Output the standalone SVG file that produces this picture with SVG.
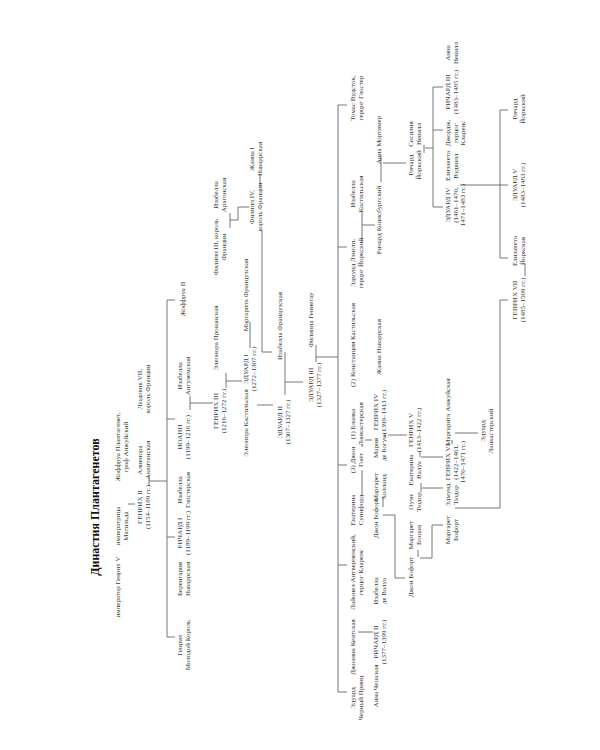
<svg xmlns="http://www.w3.org/2000/svg" width="600" height="750" viewBox="0 0 600 750">
<style>
.t{font-family:"Liberation Serif","Times New Roman",serif;font-size:7px;fill:#3a3a3a;text-anchor:middle}
.h{font-family:"Liberation Serif","Times New Roman",serif;font-size:12px;font-weight:bold;fill:#111;text-anchor:middle}
.c{stroke:#666;stroke-width:0.9;fill:none}
</style>
<rect width="600" height="750" fill="#fff"/>
<text class="h" transform="rotate(-90 99 507)" x="99" y="507">Династия Плантагенетов</text>
<g id="connectors" class="c">
<path d="M128,504 H135"/>
<path d="M149,476 V486 M149,481 H167"/>
<path d="M167,300 V637 M167,300 H175 M167,419 H175 M167,537 H175 M167,637 H175"/>
<path d="M190,396 V410 M190,403 H213"/>
<path d="M226,373 V388 M226,381 H242"/>
<path d="M230,213 V228 M230,220 H238 V207 H249"/>
<path d="M260,174 V187 M262,230 V352 H272"/>
<path d="M250,322 V348"/>
<path d="M257,405 H273"/>
<path d="M285,352 V395 M285,382 H303"/>
<path d="M316,345 V362 M316,357 H338"/>
<path d="M338,105 V692 M338,105 H347 M338,247 H347 M338,465 H347 M338,565 H347 M338,692 H347"/>
<path d="M362,212 V242 M362,225 H375"/>
<path d="M381,155 V182 M383,163 H406"/>
<path d="M424,145 V153 M425,148 H433 M433,87 V207 M433,87 H443 M433,130 H443 M433,207 H443"/>
<path d="M460,185 H500 M500,110 V258 M500,110 H508 M500,185 H508 M500,258 H508"/>
<path d="M455,508 H500 V300 H508"/>
<path d="M525,264 V276"/>
<path d="M358,632 H373"/>
<path d="M362,444 V447 M365,440 H372"/>
<path d="M362,470 V495"/>
<path d="M385,433 V437 M388,435 H407"/>
<path d="M383,497 V507 M383,515 H395 V578 H405"/>
<path d="M420,452 V457 M421,457 H443"/>
<path d="M421,483 V492 M422,488 H443"/>
<path d="M418,550 V557 M420,558 H432 V525 H443"/>
<path d="M452,440 V444 M455,433 H478"/>
</g>
<g id="n-henry5emp"><text class="t" transform="rotate(-90 120 587)" x="120" y="587">император Генрих V</text></g>
<g id="n-matilda"><text class="t" transform="rotate(-90 120 526)" x="120" y="526"><tspan x="120">императрица</tspan><tspan x="120" dy="7.5">Матильда</tspan></text></g>
<g id="n-geoffrey"><text class="t" transform="rotate(-90 120 447)" x="120" y="447"><tspan x="120">Жоффруа Плантагенет,</tspan><tspan x="120" dy="7.5">граф Анжуйский</tspan></text></g>
<g id="n-louis7"><text class="t" transform="rotate(-90 142 389)" x="142" y="389"><tspan x="142">Людовик VII,</tspan><tspan x="142" dy="7.5">король Франции</tspan></text></g>
<g id="n-eleanorAq"><text class="t" transform="rotate(-90 142 460)" x="142" y="460"><tspan x="142">Алиенора</tspan><tspan x="142" dy="7.5">Аквитанская</tspan></text></g>
<g id="n-henry2"><text class="t" transform="rotate(-90 142 507)" x="142" y="507"><tspan x="142">ГЕНРИХ II</tspan><tspan x="142" dy="7.5">(1154–1189 гг.)</tspan></text></g>
<g id="n-youngking"><text class="t" transform="rotate(-90 182 645)" x="182" y="645"><tspan x="182">Генрих</tspan><tspan x="182" dy="7.5">Молодой Король</tspan></text></g>
<g id="n-berengaria"><text class="t" transform="rotate(-90 182 579)" x="182" y="579"><tspan x="182">Беренгария</tspan><tspan x="182" dy="7.5">Наваррская</tspan></text></g>
<g id="n-richard1"><text class="t" transform="rotate(-90 182 533)" x="182" y="533"><tspan x="182">РИЧАРД I</tspan><tspan x="182" dy="7.5">(1189–1199 гг.)</tspan></text></g>
<g id="n-isabellaGl"><text class="t" transform="rotate(-90 182 490)" x="182" y="490"><tspan x="182">Изабелла</tspan><tspan x="182" dy="7.5">Глостерская</tspan></text></g>
<g id="n-john"><text class="t" transform="rotate(-90 182 437)" x="182" y="437"><tspan x="182">ИОАНН</tspan><tspan x="182" dy="7.5">(1199–1216 гг.)</tspan></text></g>
<g id="n-isabellaAng"><text class="t" transform="rotate(-90 182 376)" x="182" y="376"><tspan x="182">Изабелла</tspan><tspan x="182" dy="7.5">Ангулемская</tspan></text></g>
<g id="n-geoffrey2"><text class="t" transform="rotate(-90 185 299)" x="185" y="299">Жоффруа II</text></g>
<g id="n-henry3"><text class="t" transform="rotate(-90 218 411)" x="218" y="411"><tspan x="218">ГЕНРИХ III</tspan><tspan x="218" dy="7.5">(1216–1272 гг.)</tspan></text></g>
<g id="n-eleanorPr"><text class="t" transform="rotate(-90 218 338)" x="218" y="338">Элеонора Прованская</text></g>
<g id="n-philip3"><text class="t" transform="rotate(-90 218 247)" x="218" y="247"><tspan x="218">Филипп III, король</tspan><tspan x="218" dy="7.5">Франции</tspan></text></g>
<g id="n-isabellaAr"><text class="t" transform="rotate(-90 218 195)" x="218" y="195"><tspan x="218">Изабелла</tspan><tspan x="218" dy="7.5">Арагонская</tspan></text></g>
<g id="n-edward1"><text class="t" transform="rotate(-90 248 369)" x="248" y="369"><tspan x="248">ЭДУАРД I</tspan><tspan x="248" dy="7.5">(1272–1307 гг.)</tspan></text></g>
<g id="n-eleanorCa"><text class="t" transform="rotate(-90 248 423)" x="248" y="423">Элеонора Кастильская</text></g>
<g id="n-margaretFr"><text class="t" transform="rotate(-90 248 295)" x="248" y="295">Маргарита Французская</text></g>
<g id="n-philip4"><text class="t" transform="rotate(-90 254 207)" x="254" y="207"><tspan x="254">Филипп IV,</tspan><tspan x="254" dy="7.5">король Франции</tspan></text></g>
<g id="n-jeanne"><text class="t" transform="rotate(-90 254 159)" x="254" y="159"><tspan x="254">Жанна I</tspan><tspan x="254" dy="7.5">Наваррская</tspan></text></g>
<g id="n-isabellaFr"><text class="t" transform="rotate(-90 282 326)" x="282" y="326">Изабелла Французская</text></g>
<g id="n-edward2"><text class="t" transform="rotate(-90 282 422)" x="282" y="422"><tspan x="282">ЭДУАРД II</tspan><tspan x="282" dy="7.5">(1307–1327 гг.)</tspan></text></g>
<g id="n-philippa"><text class="t" transform="rotate(-90 313 320)" x="313" y="320">Филиппа Геннегау</text></g>
<g id="n-edward3"><text class="t" transform="rotate(-90 313 385)" x="313" y="385"><tspan x="313">ЭДУАРД III</tspan><tspan x="313" dy="7.5">(1327–1377 гг.)</tspan></text></g>
<g id="n-thomas"><text class="t" transform="rotate(-90 355 98)" x="355" y="98"><tspan x="355">Томас Вудсток,</tspan><tspan x="355" dy="7.5">герцог Глостер</tspan></text></g>
<g id="n-isabellaCa"><text class="t" transform="rotate(-90 355 194)" x="355" y="194"><tspan x="355">Изабелла</tspan><tspan x="355" dy="7.5">Кастильская</tspan></text></g>
<g id="n-edmund"><text class="t" transform="rotate(-90 355 263)" x="355" y="263"><tspan x="355">Эдмунд Лэнгли,</tspan><tspan x="355" dy="7.5">герцог Йоркский</tspan></text></g>
<g id="n-constance"><text class="t" transform="rotate(-90 355 345)" x="355" y="345">(2) Констанция Кастильская</text></g>
<g id="n-blanche"><text class="t" transform="rotate(-90 355 424)" x="355" y="424"><tspan x="355">(1) Бланка</tspan><tspan x="355" dy="7.5">Ланкастерская</tspan></text></g>
<g id="n-gaunt"><text class="t" transform="rotate(-90 355 460)" x="355" y="460"><tspan x="355">(3) Джон</tspan><tspan x="355" dy="7.5">Гонт</tspan></text></g>
<g id="n-katherine"><text class="t" transform="rotate(-90 355 510)" x="355" y="510"><tspan x="355">Екатерина</tspan><tspan x="355" dy="7.5">Суинфорд</tspan></text></g>
<g id="n-lionel"><text class="t" transform="rotate(-90 355 572)" x="355" y="572"><tspan x="355">Лайонел Антверпенский,</tspan><tspan x="355" dy="7.5">герцог Кларенс</tspan></text></g>
<g id="n-joan"><text class="t" transform="rotate(-90 355 647)" x="355" y="647">Джоанна Кентская</text></g>
<g id="n-blackprince"><text class="t" transform="rotate(-90 355 698)" x="355" y="698"><tspan x="355">Эдуард</tspan><tspan x="355" dy="7.5">Черный Принц</tspan></text></g>
<g id="n-anneM"><text class="t" transform="rotate(-90 381 140)" x="381" y="140">Анна Мортимер</text></g>
<g id="n-richardC"><text class="t" transform="rotate(-90 381 220)" x="381" y="220">Ричард Конисбургский</text></g>
<g id="n-joanna"><text class="t" transform="rotate(-90 381 347)" x="381" y="347">Жанна Наваррская</text></g>
<g id="n-henry4"><text class="t" transform="rotate(-90 378 412)" x="378" y="412"><tspan x="378">ГЕНРИХ IV</tspan><tspan x="378" dy="7.5">(1399–1413 гг.)</tspan></text></g>
<g id="n-mary"><text class="t" transform="rotate(-90 378 448)" x="378" y="448"><tspan x="378">Мария</tspan><tspan x="378" dy="7.5">де Богун</tspan></text></g>
<g id="n-margaretH"><text class="t" transform="rotate(-90 378 487)" x="378" y="487"><tspan x="378">Маргарет</tspan><tspan x="378" dy="7.5">Холланд</tspan></text></g>
<g id="n-johnB1"><text class="t" transform="rotate(-90 378 518)" x="378" y="518">Джон Бофорт</text></g>
<g id="n-isabellaV"><text class="t" transform="rotate(-90 378 591)" x="378" y="591"><tspan x="378">Изабелла</tspan><tspan x="378" dy="7.5">де Валуа</tspan></text></g>
<g id="n-richard2"><text class="t" transform="rotate(-90 378 642)" x="378" y="642"><tspan x="378">РИЧАРД II</tspan><tspan x="378" dy="7.5">(1377–1399 гг.)</tspan></text></g>
<g id="n-anneB"><text class="t" transform="rotate(-90 378 686)" x="378" y="686">Анна Чешская</text></g>
<g id="n-richardY"><text class="t" transform="rotate(-90 413 165)" x="413" y="165"><tspan x="413">Ричард</tspan><tspan x="413" dy="7.5">Йоркский</tspan></text></g>
<g id="n-cecily"><text class="t" transform="rotate(-90 413 134)" x="413" y="134"><tspan x="413">Сесилия</tspan><tspan x="413" dy="7.5">Невилл</tspan></text></g>
<g id="n-henry5"><text class="t" transform="rotate(-90 413 430)" x="413" y="430"><tspan x="413">ГЕНРИХ V</tspan><tspan x="413" dy="7.5">(1413–1422 гг.)</tspan></text></g>
<g id="n-catherineV"><text class="t" transform="rotate(-90 413 470)" x="413" y="470"><tspan x="413">Екатерина</tspan><tspan x="413" dy="7.5">Валуа</tspan></text></g>
<g id="n-owen"><text class="t" transform="rotate(-90 413 502)" x="413" y="502"><tspan x="413">Оуэн</tspan><tspan x="413" dy="7.5">Тюдор</tspan></text></g>
<g id="n-margaretBe"><text class="t" transform="rotate(-90 413 535)" x="413" y="535"><tspan x="413">Маргарет</tspan><tspan x="413" dy="7.5">Бошан</tspan></text></g>
<g id="n-johnB2"><text class="t" transform="rotate(-90 413 577)" x="413" y="577">Джон Бофорт</text></g>
<g id="n-anneN"><text class="t" transform="rotate(-90 450 53)" x="450" y="53"><tspan x="450">Анна</tspan><tspan x="450" dy="7.5">Невилл</tspan></text></g>
<g id="n-richard3"><text class="t" transform="rotate(-90 450 92)" x="450" y="92"><tspan x="450">РИЧАРД III</tspan><tspan x="450" dy="7.5">(1483–1485 гг.)</tspan></text></g>
<g id="n-george"><text class="t" transform="rotate(-90 450 133)" x="450" y="133"><tspan x="450">Джордж,</tspan><tspan x="450" dy="7.5">герцог</tspan><tspan x="450" dy="7.5">Кларенс</tspan></text></g>
<g id="n-elizabethW"><text class="t" transform="rotate(-90 450 166)" x="450" y="166"><tspan x="450">Елизавета</tspan><tspan x="450" dy="7.5">Вудвилл</tspan></text></g>
<g id="n-edward4"><text class="t" transform="rotate(-90 450 205)" x="450" y="205"><tspan x="450">ЭДУАРД IV</tspan><tspan x="450" dy="7.5">(1461–1470,</tspan><tspan x="450" dy="7.5">1471–1483 гг.)</tspan></text></g>
<g id="n-margaretAn"><text class="t" transform="rotate(-90 450 412)" x="450" y="412">Маргарита Анжуйская</text></g>
<g id="n-henry6"><text class="t" transform="rotate(-90 450 462)" x="450" y="462"><tspan x="450">ГЕНРИХ VI</tspan><tspan x="450" dy="7.5">(1422–1461,</tspan><tspan x="450" dy="7.5">1470–1471 гг.)</tspan></text></g>
<g id="n-edmundT"><text class="t" transform="rotate(-90 450 495)" x="450" y="495"><tspan x="450">Эдмунд</tspan><tspan x="450" dy="7.5">Тюдор</tspan></text></g>
<g id="n-margaretBf"><text class="t" transform="rotate(-90 450 530)" x="450" y="530"><tspan x="450">Маргарет</tspan><tspan x="450" dy="7.5">Бофорт</tspan></text></g>
<g id="n-edwardL"><text class="t" transform="rotate(-90 485 431)" x="485" y="431"><tspan x="485">Эдуард</tspan><tspan x="485" dy="7.5">Ланкастерский</tspan></text></g>
<g id="n-richardYy"><text class="t" transform="rotate(-90 517 109)" x="517" y="109"><tspan x="517">Ричард</tspan><tspan x="517" dy="7.5">Йоркский</tspan></text></g>
<g id="n-edward5"><text class="t" transform="rotate(-90 517 185)" x="517" y="185"><tspan x="517">ЭДУАРД V</tspan><tspan x="517" dy="7.5">(1483–1483 гг.)</tspan></text></g>
<g id="n-elizabethY"><text class="t" transform="rotate(-90 517 251)" x="517" y="251"><tspan x="517">Елизавета</tspan><tspan x="517" dy="7.5">Йоркская</tspan></text></g>
<g id="n-henry7"><text class="t" transform="rotate(-90 517 300)" x="517" y="300"><tspan x="517">ГЕНРИХ VII</tspan><tspan x="517" dy="7.5">(1485–1509 гг.)</tspan></text></g>
</svg>
